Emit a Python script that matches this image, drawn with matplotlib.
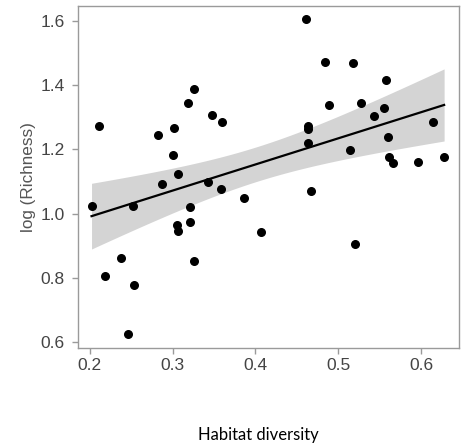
import matplotlib
matplotlib.use("Agg")
import matplotlib.pyplot as plt
import numpy as np

plt.rcParams["font.family"] = ["Liberation Sans", "DejaVu Sans"]

# habitat diversity vs log(richness)
habitat = [0.202, 0.211, 0.218, 0.238, 0.246, 0.252, 0.253, 0.282, 0.287,
           0.302, 0.301, 0.307, 0.305, 0.307, 0.318, 0.326, 0.321, 0.321,
           0.326, 0.343, 0.348, 0.358, 0.360, 0.386, 0.407, 0.461, 0.464,
           0.464, 0.464, 0.467, 0.484, 0.489, 0.514, 0.518, 0.520, 0.527,
           0.543, 0.555, 0.558, 0.560, 0.561, 0.566, 0.596, 0.615, 0.628]
log_rich = [1.024, 1.274, 0.805, 0.863, 0.627, 1.025, 0.777, 1.246, 1.091,
            1.268, 1.183, 1.124, 0.964, 0.947, 1.343, 1.389, 1.022, 0.974,
            0.853, 1.098, 1.306, 1.076, 1.284, 1.050, 0.943, 1.604, 1.272,
            1.262, 1.221, 1.072, 1.472, 1.339, 1.199, 1.468, 0.905, 1.344,
            1.304, 1.328, 1.417, 1.237, 1.176, 1.158, 1.162, 1.284, 1.176]
xticks = [0.2, 0.3, 0.4, 0.5, 0.6]
yticks = [0.6, 0.8, 1.0, 1.2, 1.4, 1.6]

x = np.array(habitat)
y = np.array(log_rich)

# linear fit with 95% confidence band (like geom_smooth(method="lm"))
n = len(x)
b, a = np.polyfit(x, y, 1)
resid = y - (a + b * x)
s = np.sqrt(np.sum(resid ** 2) / (n - 2))
xs = np.linspace(x.min(), x.max(), 100)
se = s * np.sqrt(1 / n + (xs - x.mean()) ** 2 / np.sum((x - x.mean()) ** 2))
t = 2.017  # t(0.975, df=43)
fit = a + b * xs

fig = plt.figure(figsize=(4.72, 4.47), dpi=100)
ax = fig.add_axes([0.165, 0.2215, 0.8075, 0.765])

ax.fill_between(xs, fit - t * se, fit + t * se, color="#d4d4d4", lw=0)
ax.plot(xs, fit, color="black", lw=1.6)
ax.scatter(x, y, s=30, color="black", zorder=3)

ax.set_xlim(0.1855, 0.646)
ax.set_ylim(0.5826, 1.6457)
ax.set_xticks(xticks)
ax.set_yticks(yticks)
ax.set_xticklabels([f"{v:.1f}" for v in xticks])
ax.set_yticklabels([f"{v:.1f}" for v in yticks])

for sp in ax.spines.values():
    sp.set_color("#9a9a9a")
    sp.set_linewidth(1.0)
ax.tick_params(direction="out", length=4.5, width=1.0, color="#9a9a9a",
               labelsize=12.5, labelcolor="#444444")
ax.tick_params(axis="y", pad=5)
ax.tick_params(axis="x", pad=2.5)

ax.set_ylabel("log (Richness)", fontsize=12.3, color="#555555", labelpad=3)
fig.text(0.547, 0.027, "Habitat diversity", fontsize=12, color="black",
         family="Lato", ha="center", va="center")

fig.savefig("out.png", dpi=100)
